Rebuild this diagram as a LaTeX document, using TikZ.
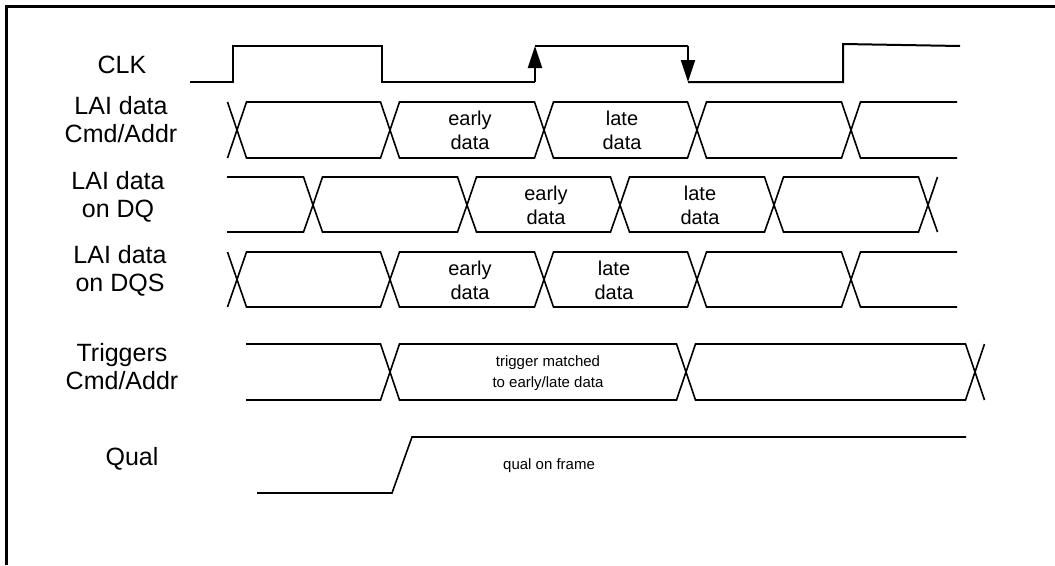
\documentclass[tikz,border=0pt]{standalone}
\usepackage{fontspec}
\setmainfont{Liberation Sans}
\usetikzlibrary{arrows.meta}

\begin{document}
\begin{tikzpicture}[x=1pt,y=-1pt,
  sig/.style={line width=1.6pt,line join=miter},
  clkline/.style={line width=2pt},
  edgetip/.style={line width=2pt,-{Triangle[length=22pt,width=14pt]}},
  lbl/.style={align=center,inner sep=0pt,font=\fontsize{25}{28}\selectfont},
  bus/.style={align=center,inner sep=0pt,font=\fontsize{20}{24}\selectfont},
  note/.style={align=center,inner sep=0pt,font=\fontsize{15}{21}\selectfont}]
\useasboundingbox (0,0) rectangle (1055,565);
\draw[line width=2.7pt] (6.7,565) -- (6.7,6.3) -- (1055,6.3);
\node[lbl] (clk) at (122,65) {CLK};
\node[lbl] (cmd) at (121,120) {LAI data\\Cmd/Addr};
\node[lbl] (dq) at (118,197) {LAI data\\on DQ};
\node[lbl] (dqs) at (120,271) {LAI data\\on DQS};
\node[lbl] (trig) at (122,367) {Triggers\\Cmd/Addr};
\node[lbl] (qual) at (132,459) {Qual};
\draw[clkline] (190,82) -- (233,82) -- (233,46) -- (382,46) -- (382,82) -- (535,82);
\draw[edgetip] (535,82) -- (535,46);
\draw[clkline] (535,46) -- (688,46);
\draw[edgetip] (688,46) -- (688,82);
\draw[clkline] (688,82) -- (843,82) -- (843,44) -- (960,46);
\draw[sig] (227.5,102) -- (237,130) -- (227.5,158);
\draw[sig] (237,130) -- (246.5,102) -- (380.5,102) -- (390,130) -- (380.5,158) -- (246.5,158) -- cycle;
\draw[sig] (390,130) -- (399.5,102) -- (534.5,102) -- (544,130) -- (534.5,158) -- (399.5,158) -- cycle;
\draw[sig] (544,130) -- (553.5,102) -- (687.5,102) -- (697,130) -- (687.5,158) -- (553.5,158) -- cycle;
\draw[sig] (697,130) -- (706.5,102) -- (841.5,102) -- (851,130) -- (841.5,158) -- (706.5,158) -- cycle;
\draw[sig] (957,102) -- (860.5,102) -- (851,130) -- (860.5,158) -- (957,158);
\node[bus] (e1) at (470,130) {early\\data};
\node[bus] (l1) at (622,130) {late\\data};
\draw[sig] (227,177) -- (303.5,177) -- (313,205) -- (303.5,232) -- (227,232);
\draw[sig] (313,205) -- (322.5,177) -- (457.5,177) -- (467,205) -- (457.5,232) -- (322.5,232) -- cycle;
\draw[sig] (467,205) -- (476.5,177) -- (610.5,177) -- (620,205) -- (610.5,232) -- (476.5,232) -- cycle;
\draw[sig] (620,205) -- (629.5,177) -- (764.5,177) -- (774,205) -- (764.5,232) -- (629.5,232) -- cycle;
\draw[sig] (774,205) -- (783.5,177) -- (918.5,177) -- (928,205) -- (918.5,232) -- (783.5,232) -- cycle;
\draw[sig] (937.5,177) -- (928,205) -- (937.5,232);
\node[bus] (e2) at (546,205) {early\\data};
\node[bus] (l2) at (700,205) {late\\data};
\draw[sig] (227.5,252) -- (237,279.5) -- (227.5,307);
\draw[sig] (237,279.5) -- (246.5,252) -- (380.5,252) -- (390,279.5) -- (380.5,307) -- (246.5,307) -- cycle;
\draw[sig] (390,279.5) -- (399.5,252) -- (534.5,252) -- (544,279.5) -- (534.5,307) -- (399.5,307) -- cycle;
\draw[sig] (544,279.5) -- (553.5,252) -- (687.5,252) -- (697,279.5) -- (687.5,307) -- (553.5,307) -- cycle;
\draw[sig] (697,279.5) -- (706.5,252) -- (841.5,252) -- (851,279.5) -- (841.5,307) -- (706.5,307) -- cycle;
\draw[sig] (957,252) -- (860.5,252) -- (851,279.5) -- (860.5,307) -- (957,307);
\node[bus] (e3) at (470,280) {early\\data};
\node[bus] (l3) at (614,280) {late\\data};
\draw[sig] (246,344) -- (380.5,344) -- (390,372) -- (380.5,400) -- (246,400);
\draw[sig] (390,372) -- (399.5,344) -- (676.5,344) -- (686,372) -- (676.5,400) -- (399.5,400) -- cycle;
\draw[sig] (686,372) -- (695.5,344) -- (965.5,344) -- (975,372) -- (965.5,400) -- (695.5,400) -- cycle;
\draw[sig] (984.5,344) -- (975,372) -- (984.5,400);
\node[note] (match) at (548,373) {trigger matched\\to early/late data};
\draw[sig] (257,493) -- (392,493) -- (412,437) -- (966,437);
\node[note,anchor=west] (frame) at (503,466) {qual on frame};
\end{tikzpicture}
\end{document}
